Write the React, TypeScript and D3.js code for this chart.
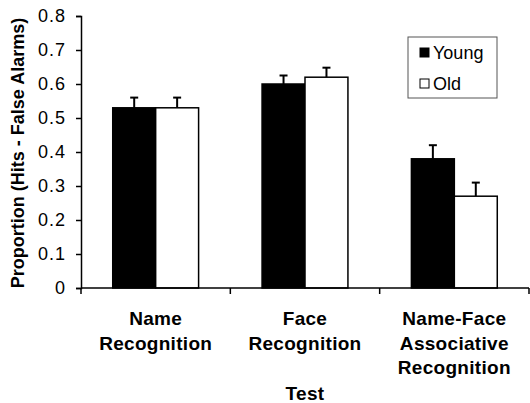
import { useRef, useEffect } from 'react';
import * as d3 from 'd3';

// chart data
const categories = ['Name Recognition', 'Face Recognition', 'Name-Face Associative Recognition'];
const categoryLines = [['Name', 'Recognition'], ['Face', 'Recognition'], ['Name-Face', 'Associative', 'Recognition']];
const series = ['Young', 'Old'];
const youngValues = [0.53, 0.6, 0.38];
const oldValues = [0.53, 0.62, 0.27];
const youngErrors = [0.03, 0.025, 0.04];
const oldErrors = [0.03, 0.028, 0.04];
const yTicks = [0, 0.1, 0.2, 0.3, 0.4, 0.5, 0.6, 0.7, 0.8];

const W = 530;
const H = 403;
const FONT = 'Liberation Sans, Arial, sans-serif';

const App = () => {
  const svgRef = useRef<SVGSVGElement>(null);

  useEffect(() => {
    const margin = { top: 16, right: 1, bottom: 115, left: 81 };
    const svg = d3.select(svgRef.current);
    svg.selectAll('*').remove();

    const x0 = d3.scaleBand()
      .domain(categories)
      .range([margin.left, W - margin.right])
      .paddingInner(0)
      .paddingOuter(0);

    // bars take ~58% of each category slot
    const groupW = x0.bandwidth() * 0.575;
    const x1 = d3.scaleBand()
      .domain(series)
      .range([0, groupW])
      .padding(0);

    const y = d3.scaleLinear()
      .domain([0, 0.8])
      .range([H - margin.bottom, margin.top]);

    const values: Record<string, number[]> = { Young: youngValues, Old: oldValues };
    const errors: Record<string, number[]> = { Young: youngErrors, Old: oldErrors };

    const rows = categories.flatMap((c, i) =>
      series.map(s => ({ cat: c, s, v: values[s][i], e: errors[s][i] }))
    );

    const barX = (d: any) => x0(d.cat)! + (x0.bandwidth() - groupW) / 2 + x1(d.s)!;

    // error bars (upward only)
    svg.append('g')
      .selectAll('g')
      .data(rows)
      .enter()
      .append('g')
      .each(function (d: any) {
        const g = d3.select(this);
        const cx = barX(d) + x1.bandwidth() / 2;
        g.append('line')
          .attr('x1', cx).attr('x2', cx)
          .attr('y1', y(d.v)).attr('y2', y(d.v + d.e))
          .attr('stroke', '#000').attr('stroke-width', 2);
        g.append('line')
          .attr('x1', cx - 4).attr('x2', cx + 4)
          .attr('y1', y(d.v + d.e)).attr('y2', y(d.v + d.e))
          .attr('stroke', '#000').attr('stroke-width', 2);
      });

    // bars
    svg.append('g')
      .selectAll('rect')
      .data(rows)
      .enter()
      .append('rect')
      .attr('x', d => barX(d))
      .attr('y', d => y(d.v))
      .attr('width', x1.bandwidth())
      .attr('height', d => y(0) - y(d.v))
      .attr('fill', d => (d.s === 'Young' ? '#000' : '#fff'))
      .attr('stroke', '#000')
      .attr('stroke-width', 1.5);

    // y axis
    const yAxis = svg.append('g')
      .attr('transform', `translate(${margin.left},0)`)
      .call(d3.axisLeft(y).tickValues(yTicks).tickFormat(d => (d === 0 ? '0' : d3.format('.1f')(d as number))).tickSize(5).tickPadding(10));
    yAxis.select('.domain').attr('stroke-width', 1.5);
    yAxis.selectAll('.tick line').attr('stroke-width', 1.5);
    yAxis.selectAll('text')
      .attr('font-family', FONT)
      .attr('font-size', 18)
      .attr('letter-spacing', 1)
      .attr('fill', '#000');

    // x axis
    const xAxis = svg.append('g')
      .attr('transform', `translate(0,${y(0)})`);
    xAxis.append('line')
      .attr('x1', margin.left).attr('x2', W - margin.right)
      .attr('y1', 0).attr('y2', 0)
      .attr('stroke', '#000').attr('stroke-width', 1.5);
    const bounds = [...categories.map(c => x0(c)!), x0(categories[categories.length - 1])! + x0.bandwidth()];
    xAxis.selectAll('line.tk')
      .data(bounds)
      .enter()
      .append('line')
      .attr('class', 'tk')
      .attr('x1', d => d).attr('x2', d => d)
      .attr('y1', 0).attr('y2', 6)
      .attr('stroke', '#000').attr('stroke-width', 1.5);

    // category labels
    categories.forEach((c, i) => {
      const t = svg.append('text')
        .attr('x', x0(c)! + x0.bandwidth() / 2)
        .attr('y', y(0) + 37)
        .attr('text-anchor', 'middle')
        .attr('font-family', FONT)
        .attr('font-size', 19)
        .attr('letter-spacing', 0.3)
        .attr('font-weight', 'bold')
        .attr('fill', '#000');
      categoryLines[i].forEach((line, j) => {
        t.append('tspan')
          .attr('x', x0(c)! + x0.bandwidth() / 2)
          .attr('dy', j === 0 ? 0 : 24.5)
          .text(line);
      });
    });

    // axis titles
    svg.append('text')
      .attr('x', x0(categories[1])! + x0.bandwidth() / 2)
      .attr('y', 400)
      .attr('text-anchor', 'middle')
      .attr('font-family', FONT)
      .attr('font-size', 19)
      .attr('letter-spacing', 0.3)
      .attr('font-weight', 'bold')
      .text('Test');

    svg.append('text')
      .attr('transform', `translate(24,${(y(0) + y(0.8)) / 2 + 1}) rotate(-90)`)
      .attr('text-anchor', 'middle')
      .attr('font-family', FONT)
      .attr('font-size', 18)
      .attr('font-weight', 'bold')
      .text('Proportion (Hits - False Alarms)');

    // legend
    const lg = svg.append('g').attr('transform', 'translate(408,37)');
    lg.append('rect')
      .attr('width', 89).attr('height', 61)
      .attr('fill', '#fff').attr('stroke', '#555').attr('stroke-width', 1);
    series.forEach((s, i) => {
      const cy = 16 + i * 31;
      lg.append('rect')
        .attr('x', 12).attr('y', cy - 5)
        .attr('width', 9).attr('height', 9)
        .attr('fill', s === 'Young' ? '#000' : '#fff')
        .attr('stroke', '#000').attr('stroke-width', 1);
      lg.append('text')
        .attr('x', 25).attr('y', cy + 6)
        .attr('font-family', FONT)
        .attr('font-size', 18)
        .text(s);
    });
  }, []);

  return (
    <svg ref={svgRef} width={W} height={H} style={{ position: 'absolute', left: 0, top: 0, background: '#fff' }}></svg>
  );
};

export default App;
